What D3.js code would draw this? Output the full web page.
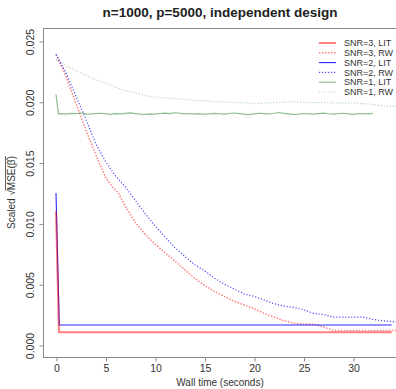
<!DOCTYPE html>
<html>
<head>
<meta charset="utf-8">
<script src="https://cdn.jsdelivr.net/npm/d3@7"></script>
<style>
  body { margin: 0; background: #fff; }
  svg { font-family: "Liberation Sans", Arial, sans-serif; }
</style>
</head>
<body>
<div id="chart"></div>
<script>
// ---- data ----
const xTicks = [0, 5, 10, 15, 20, 25, 30];
const yTicks = [0.000, 0.005, 0.010, 0.015, 0.020, 0.025];

// SNR=3, LIT  (red solid)
const snr3Lit = [[0, 0.0110], [0.3, 0.00105], [33.9, 0.00105]];
// SNR=3, RW  (red dotted)
const snr3Rw = [
  [0, 0.0239], [1, 0.0221], [2, 0.0199], [3, 0.0177], [4, 0.0157], [5, 0.0138],
  [5.7, 0.0130], [6.3, 0.0125], [7, 0.0114], [8, 0.0101], [9, 0.0091], [10, 0.0083],
  [11, 0.0076], [12, 0.0069], [13, 0.0062], [14, 0.0055], [15, 0.0049], [16, 0.0044],
  [17, 0.0040], [18, 0.0036], [19, 0.0033], [20, 0.0030], [21, 0.0026], [22, 0.0023],
  [23, 0.0020], [24, 0.0018], [25, 0.0017], [26, 0.0017], [27, 0.0015], [28, 0.0012],
  [34.4, 0.0012]
];
// SNR=2, LIT  (blue solid)
const snr2Lit = [[0, 0.0125], [0.33, 0.00164], [33.9, 0.00164]];
// SNR=2, RW  (blue dotted)
const snr2Rw = [
  [0, 0.0239], [1, 0.0224], [2, 0.0205], [3, 0.0186], [4, 0.0166], [5, 0.0151],
  [6, 0.0139], [7, 0.0130], [8, 0.0119], [9, 0.0108], [10, 0.0098], [11, 0.0089],
  [12, 0.0080], [13, 0.0073], [14, 0.0066], [15, 0.0061], [16, 0.0055], [17, 0.0050],
  [18, 0.0046], [19, 0.0042], [20, 0.0040], [21, 0.0037], [22, 0.0034], [23, 0.0032],
  [24, 0.0031], [25, 0.0029], [26, 0.0026], [27, 0.0025], [28, 0.0023], [30, 0.0023],
  [31, 0.0023], [32, 0.0021], [33, 0.0020], [34.4, 0.0019]
];
// SNR=1, LIT  (green solid, noisy plateau)
const snr1Lit = [
  [0, 0.0206], [0.25, 0.0190], [0.5, 0.01902], [1, 0.01898], [1.5, 0.01905], [2, 0.01903],
  [2.5, 0.01908], [3, 0.01901], [3.5, 0.01899], [4, 0.01904], [4.5, 0.01906], [5, 0.01900],
  [5.5, 0.01897], [6, 0.01903], [6.5, 0.01901], [7, 0.01905], [7.5, 0.01909], [8, 0.01903],
  [8.5, 0.01899], [9, 0.01896], [9.5, 0.01901], [10, 0.01898], [10.5, 0.01904], [11, 0.01907],
  [11.5, 0.01903], [12, 0.01910], [12.5, 0.01906], [13, 0.01901], [13.5, 0.01904], [14, 0.01899],
  [14.5, 0.01902], [15, 0.01896], [15.5, 0.01900], [16, 0.01905], [16.5, 0.01902], [17, 0.01899],
  [17.5, 0.01904], [18, 0.01908], [18.5, 0.01903], [19, 0.01898], [19.5, 0.01894], [20, 0.01901],
  [20.5, 0.01906], [21, 0.01903], [21.5, 0.01900], [22, 0.01904], [22.5, 0.01912], [23, 0.01905],
  [23.5, 0.01901], [24, 0.01897], [24.5, 0.01899], [25, 0.01904], [25.5, 0.01901], [26, 0.01898],
  [26.5, 0.01903], [27, 0.01907], [27.5, 0.01902], [28, 0.01898], [28.5, 0.01902], [29, 0.01906],
  [29.5, 0.01900], [30, 0.01896], [30.5, 0.01901], [31, 0.01904], [31.5, 0.01900], [32, 0.01905]
];
// SNR=1, RW  (green dotted)
const snr1Rw = [
  [0, 0.02345], [1, 0.0230], [2, 0.02255], [3, 0.0222], [4, 0.0218], [5, 0.02155],
  [6, 0.0212], [7, 0.0209], [8, 0.02075], [9, 0.0205], [10, 0.0204], [11, 0.0203],
  [12, 0.02025], [13, 0.0202], [14, 0.0201], [15, 0.0201], [16, 0.0200], [17, 0.0200],
  [18, 0.01995], [19, 0.01992], [20, 0.01985], [21, 0.0199], [22, 0.01993], [23, 0.01997],
  [24, 0.0200], [25, 0.01995], [26, 0.01993], [27, 0.01995], [28, 0.0199], [29, 0.01992],
  [30, 0.0199], [31, 0.01985], [32, 0.0198], [33, 0.01965], [34.4, 0.01965]
];

const legendLabels = ["SNR=3, LIT", "SNR=3, RW", "SNR=2, LIT", "SNR=2, RW", "SNR=1, LIT", "SNR=1, RW"];

// ---- styles ----
const seriesList = [
  { data: snr3Rw,  color: "#ff0000", width: 1.5, dash: "1.5,1.5", opacity: 0.5 },
  { data: snr2Rw,  color: "#0000ff", width: 1.2, dash: "1.2,1.8", opacity: 0.7 },
  { data: snr1Rw,  color: "#008000", width: 1.2, dash: "1.2,1.8", opacity: 0.3 },
  { data: snr1Lit, color: "#2e8b2e", width: 1.2, dash: null, opacity: 0.55 },
  { data: snr2Lit, color: "#0000ff", width: 1.1, dash: null, opacity: 0.85 },
  { data: snr3Lit, color: "#ff0000", width: 2,   dash: null, opacity: 0.5 }
];
const legendStyles = [seriesList[5], seriesList[0], seriesList[4], seriesList[1], seriesList[3], seriesList[2]];

const width = 396, height = 389;
const margin = { top: 28, right: -1, bottom: 32, left: 43 };
const innerW = width - margin.left - margin.right;
const innerH = height - margin.top - margin.bottom;

const svg = d3.select("#chart").append("svg")
  .attr("width", width)
  .attr("height", height);

const xScale = d3.scaleLinear().domain([-1.313, 34.44]).range([margin.left, margin.left + innerW]);
const yScale = d3.scaleLinear().domain([-0.000987, 0.02607]).range([margin.top + innerH, margin.top]);

// title
svg.append("text")
  .attr("x", 220)
  .attr("y", 17)
  .attr("text-anchor", "middle")
  .attr("font-size", "13.5px")
  .attr("font-weight", "bold")
  .attr("fill", "#222")
  .text("n=1000, p=5000, independent design");

// clip for data
svg.append("clipPath").attr("id", "clip")
  .append("rect")
  .attr("x", margin.left).attr("y", margin.top)
  .attr("width", innerW).attr("height", innerH);

const line = d3.line().x(d => xScale(d[0])).y(d => yScale(d[1]));

const plot = svg.append("g").attr("clip-path", "url(#clip)");
seriesList.forEach(s => {
  plot.append("path")
    .datum(s.data)
    .attr("d", line)
    .attr("fill", "none")
    .attr("stroke", s.color)
    .attr("stroke-width", s.width)
    .attr("stroke-opacity", s.opacity)
    .attr("stroke-dasharray", s.dash);
});

// box
svg.append("rect")
  .attr("x", margin.left + 0.5)
  .attr("y", margin.top + 0.5)
  .attr("width", innerW)
  .attr("height", innerH)
  .attr("fill", "none")
  .attr("stroke", "#8a8a8a")
  .attr("stroke-width", 1);

// x axis
const xAxis = d3.axisBottom(xScale).tickValues(xTicks).tickSize(4).tickPadding(3).tickFormat(d3.format("d"));
const xAxisG = svg.append("g")
  .attr("transform", `translate(0.5,${margin.top + innerH + 0.5})`)
  .call(xAxis);
xAxisG.select(".domain").remove();
xAxisG.selectAll(".tick line").attr("stroke", "#8a8a8a");
xAxisG.selectAll(".tick text")
  .attr("font-size", "10.5px")
  .attr("font-family", "Liberation Sans, Arial, sans-serif")
  .attr("fill", "#333");

// y axis
const yAxis = d3.axisLeft(yScale).tickValues(yTicks).tickSize(4).tickFormat(d3.format(".3f"));
const yAxisG = svg.append("g")
  .attr("transform", `translate(${margin.left + 0.5},0.5)`)
  .call(yAxis);
yAxisG.select(".domain").remove();
yAxisG.selectAll(".tick line").attr("stroke", "#8a8a8a");
yAxisG.selectAll(".tick text")
  .attr("font-size", "10.5px")
  .attr("font-family", "Liberation Sans, Arial, sans-serif")
  .attr("fill", "#333")
  .attr("text-anchor", "middle")
  .attr("x", 0)
  .attr("dy", null)
  .attr("transform", "translate(-10,0) rotate(-90)");

// x label
svg.append("text")
  .attr("x", 220)
  .attr("y", 386)
  .attr("text-anchor", "middle")
  .attr("font-size", "10px")
  .attr("fill", "#333")
  .text("Wall time (seconds)");

// y label: Scaled sqrt(MSE(beta-hat)) with overline
const yLab = svg.append("g").attr("transform", `translate(15,${margin.top + innerH / 2}) rotate(-90)`);
const yLabText = yLab.append("text")
  .attr("font-size", "10px")
  .attr("fill", "#333");
yLabText.append("tspan").text("Scaled \u221A");
const msePart = yLabText.append("tspan").text("MSE(\u03B2\u0302)");
const fullW = yLabText.node().getComputedTextLength();
const mseW = msePart.node().getComputedTextLength();
yLabText.attr("x", -fullW / 2);
yLab.append("line")
  .attr("x1", fullW / 2 - mseW - 0.5)
  .attr("x2", fullW / 2)
  .attr("y1", -9.5)
  .attr("y2", -9.5)
  .attr("stroke", "#333")
  .attr("stroke-width", 0.8);

// legend
const legend = svg.append("g").attr("transform", "translate(319,43)");
legendLabels.forEach((lab, i) => {
  const s = legendStyles[i];
  const row = legend.append("g").attr("transform", `translate(0,${i * 9.8})`);
  row.append("line")
    .attr("x1", 0).attr("x2", 17)
    .attr("stroke", s.color)
    .attr("stroke-width", s.width)
    .attr("stroke-opacity", s.opacity)
    .attr("stroke-dasharray", s.dash);
  row.append("text")
    .attr("x", 25)
    .attr("y", 3.2)
    .attr("font-size", "9px")
    .attr("fill", "#333")
    .text(lab);
});
</script>
</body>
</html>
